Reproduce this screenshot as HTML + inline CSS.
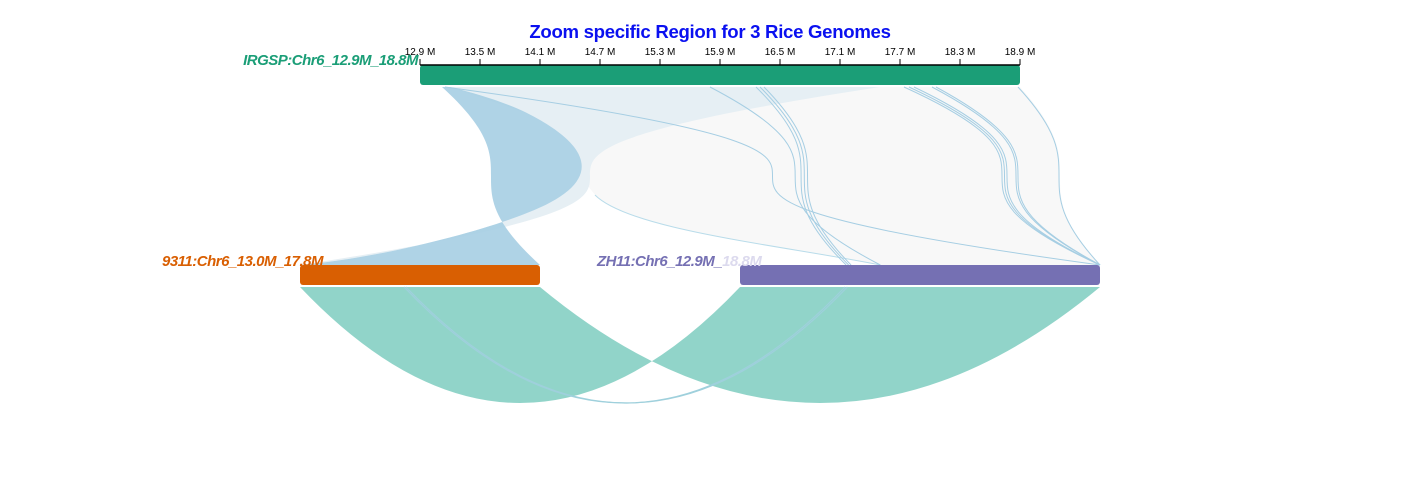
<!DOCTYPE html>
<html><head><meta charset="utf-8">
<style>
html,body{margin:0;padding:0;background:#fff;}
svg{display:block;font-family:"Liberation Sans",sans-serif;}
</style></head>
<body>
<svg id="chart" width="1420" height="500" viewBox="0 0 1420 500">
<text x="710" y="38" text-anchor="middle" font-size="18.6" font-weight="bold" fill="#0a10f0" letter-spacing="-0.3">Zoom specific Region for 3 Rice Genomes</text>
<g id="links"></g>
<g id="chroms"></g>
<g id="axis"></g>
</svg>
<script>
// ---- data ----
const tickValues = [12.9, 13.5, 14.1, 14.7, 15.3, 15.9, 16.5, 17.1, 17.7, 18.3, 18.9];
const tickLabels = ["12.9 M","13.5 M","14.1 M","14.7 M","15.3 M","15.9 M","16.5 M","17.1 M","17.7 M","18.3 M","18.9 M"];
const chromNames = ["IRGSP", "9311", "ZH11"];
const chromLabels = ["IRGSP:Chr6_12.9M_18.8M", "9311:Chr6_13.0M_17.8M", "ZH11:Chr6_12.9M_"];
const chromStart = [12.9, 13.0, 12.9];
const chromEnd = [18.9, 17.8, 18.8];
// ribbon IRGSP -> ZH11 [irgspA, irgspB, zhA, zhB]
const grayRibbon = [13.12, 18.9, 15.2, 18.8];
// thin lines IRGSP -> ZH11 [irgsp, zh11]
const topLines = [[13.15, 18.8], [15.8, 15.2], [16.26, 14.64], [16.30, 14.68], [16.34, 14.72], [17.74, 18.8], [17.79, 18.8], [17.84, 18.8], [18.02, 18.8], [18.06, 18.8], [18.88, 18.8]];
// IRGSP -> 9311 ribbons
const darkRibbon = [13.12, 13.2, 17.8, 13.0];
const lightRibbon = [13.2, 17.5, 13.0];
// 9311 -> ZH11
const bottomRibbon = [13.0, 17.8, 12.9, 18.8];
const bottomLines = [[15.08, 14.62], [15.12, 14.66]];

// ---- layout (styles) ----
const geo = [
  {x0:420, x1:1020, y:65, h:20, color:"#1b9e77"},
  {x0:300, x1:540, y:265, h:20, color:"#d95f02"},
  {x0:740, x1:1100, y:265, h:20, color:"#7570b3"}
];
const NS = "http://www.w3.org/2000/svg";
function sc(i, v){ const g=geo[i]; return g.x0 + (v-chromStart[i])/(chromEnd[i]-chromStart[i])*(g.x1-g.x0); }
function mk(tag, attrs, parent){ const e=document.createElementNS(NS, tag); for(const k in attrs) e.setAttribute(k, attrs[k]); parent.appendChild(e); return e; }
const links = document.getElementById("links");
const chroms = document.getElementById("chroms");
const axis = document.getElementById("axis");
const topY = 87, botY = 265, lowY = 287, depth = 232;

// link curve with crossed control points (diagonal ends, vertical middle)
function vcurve(xa, ya, xb, yb){ const m=(ya+yb)/2; return `C${xb},${m} ${xa},${m} ${xb},${yb}`; }
function qdown(xa, xb){ return `Q${(xa+xb)/2},${lowY+depth} ${xb},${lowY}`; }

// gray ribbon IRGSP->ZH11
{
  const a=sc(0,grayRibbon[0]), b=sc(0,grayRibbon[1]), c=sc(2,grayRibbon[2]), d=sc(2,grayRibbon[3]);
  const p = mk("path", {d:`M${a},${topY} L${b},${topY} ${vcurve(b,topY,d,botY)} L${c},${botY} C780,245 630,230 595,195 C570,160 500,100 ${a},${topY} Z`, fill:"#f8f8f8"}, links);
  
  
  const e = mk("path", {d:`M${c},${botY} C780,245 630,230 595,195`, fill:"none", stroke:"#b9dcea", "stroke-width":"1"}, links);
  
  
}
// light ribbon IRGSP->9311
{
  const a=sc(0,lightRibbon[0]), b=sc(0,lightRibbon[1]), c=sc(1,lightRibbon[2]);
  const p = mk("path", {d:`M${a},${topY} L${b},${topY} ${vcurve(b,topY,c,botY)} C380,258 480,232 527,213 C600,185 600,150 527,113 Z`, fill:"#e6eff4"}, links);
  
  
}
// dark ribbon IRGSP->9311
{
  const a=sc(0,darkRibbon[0]), b=sc(0,darkRibbon[1]), c=sc(1,darkRibbon[2]), d=sc(1,darkRibbon[3]);
  const p = mk("path", {d:`M${a},${topY} ${vcurve(a,topY,c,botY)} L${d},${botY} C380,258 480,232 527,213 C600,185 600,150 527,113 C500,100 470,92 ${b},${topY} Z`, fill:"#a6cee3", "fill-opacity":"0.9"}, links);
  
  
}
// top thin lines
topLines.forEach((l,i)=>{
  const a=sc(0,l[0]), c=sc(2,l[1]);
  const p = mk("path", {d:`M${a},${topY} ${vcurve(a,topY,c,botY)}`, fill:"none", stroke:"#a6cee3", "stroke-width":"1"}, links);
  
  
});
// bottom ribbon 9311->ZH11
{
  const a=sc(1,bottomRibbon[0]), b=sc(1,bottomRibbon[1]), c=sc(2,bottomRibbon[2]), d=sc(2,bottomRibbon[3]);
  const p1 = mk("path", {d:`M${a},${lowY} ${qdown(a,c)} L${d},${lowY} Q${(b+d)/2},${lowY+depth} ${b},${lowY} Z`, fill:"#8dd3c7", "fill-opacity":"0.97"}, links);
  
  
}
bottomLines.forEach(l=>{
  const a=sc(1,l[0]), c=sc(2,l[1]);
  const p = mk("path", {d:`M${a},${lowY} ${qdown(a,c)}`, fill:"none", stroke:"#9fd0dc", "stroke-width":"1.2"}, links);
  
  
});

// chromosomes
geo.forEach((g,i)=>{
  const r = mk("rect", {x:g.x0, y:g.y, width:g.x1-g.x0, height:g.h, rx:3, fill:g.color}, chroms);
  
  
});
// labels
{
  const t0 = mk("text", {x:418, y:65, "text-anchor":"end", "font-size":"15", "font-style":"italic", "font-weight":"bold", fill:"#1b9e77", "letter-spacing":"-0.5"}, chroms);
  t0.textContent = chromLabels[0];
  
  
  const t1 = mk("text", {x:323, y:266, "text-anchor":"end", "font-size":"15", "font-style":"italic", "font-weight":"bold", fill:"#d95f02", "letter-spacing":"-0.5"}, chroms);
  t1.textContent = chromLabels[1];
  
  
  const t2 = mk("text", {x:597, y:266, "font-size":"15", "font-style":"italic", "font-weight":"bold", fill:"#7570b3", "letter-spacing":"-0.5"}, chroms);
  t2.textContent = chromLabels[2];
  
  
  const ts = mk("tspan", {fill:"#dcdaee"}, t2);
  ts.textContent = "18.8M";
}
// axis
{
  const ln = mk("line", {x1:420, x2:1020, y1:65, y2:65, stroke:"#000", "stroke-width":"1.5"}, axis);
  
  
  tickValues.forEach((v,i)=>{
    const x = sc(0,v);
    const tk = mk("line", {x1:x, x2:x, y1:59, y2:65, stroke:"#000", "stroke-width":"1"}, axis);
    
    
    const tl = mk("text", {x:x, y:55, "text-anchor":"middle", "font-size":"10", fill:"#000"}, axis);
    tl.textContent = tickLabels[i];
    
    
  });
}
</script>
</body></html>
